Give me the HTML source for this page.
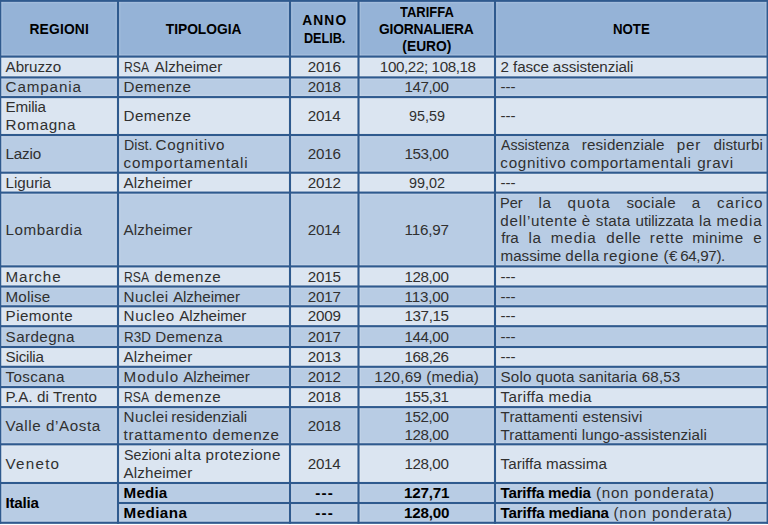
<!DOCTYPE html>
<html lang="it">
<head>
<meta charset="utf-8">
<title>Tariffe giornaliere</title>
<style>
html,body{margin:0;padding:0;background:#fff;}
body{width:768px;height:525px;position:relative;overflow:hidden;font-family:"Liberation Sans",sans-serif;color:#303030;}
svg{position:absolute;left:0;top:0;}
.t{position:absolute;white-space:pre;line-height:1;font-size:15.2px;transform-origin:0 0;}
.b{font-weight:bold;color:#000;}
.h{font-size:13.8px;font-weight:bold;color:#000;}
</style>
</head>
<body>
<svg width="768" height="525" viewBox="0 0 768 525">
<rect x="0" y="0.80" width="768" height="56.60" fill="#95b3d7"/>
<rect x="0" y="56.60" width="768" height="21.60" fill="#dbe5f1"/>
<rect x="0" y="77.40" width="768" height="20.50" fill="#b8cce4"/>
<rect x="0" y="97.10" width="768" height="38.70" fill="#dbe5f1"/>
<rect x="0" y="135.00" width="768" height="38.50" fill="#b8cce4"/>
<rect x="0" y="172.70" width="768" height="20.70" fill="#dbe5f1"/>
<rect x="0" y="192.60" width="768" height="74.60" fill="#b8cce4"/>
<rect x="0" y="266.40" width="768" height="20.90" fill="#dbe5f1"/>
<rect x="0" y="286.50" width="768" height="20.60" fill="#b8cce4"/>
<rect x="0" y="306.30" width="768" height="20.70" fill="#dbe5f1"/>
<rect x="0" y="326.20" width="768" height="21.60" fill="#b8cce4"/>
<rect x="0" y="347.00" width="768" height="20.60" fill="#dbe5f1"/>
<rect x="0" y="366.80" width="768" height="21.10" fill="#b8cce4"/>
<rect x="0" y="387.10" width="768" height="20.80" fill="#dbe5f1"/>
<rect x="0" y="407.10" width="768" height="38.00" fill="#b8cce4"/>
<rect x="0" y="444.30" width="768" height="39.50" fill="#dbe5f1"/>
<rect x="0" y="483.00" width="768" height="20.80" fill="#b8cce4"/>
<rect x="0" y="503.00" width="768" height="19.80" fill="#b8cce4"/>
<rect x="0.00" y="-1.65" width="768.00" height="4.90" fill="#fff" fill-opacity="0.13"/>
<rect x="0.00" y="54.15" width="768.00" height="4.90" fill="#fff" fill-opacity="0.13"/>
<rect x="0.00" y="74.95" width="768.00" height="4.90" fill="#fff" fill-opacity="0.13"/>
<rect x="0.00" y="94.65" width="768.00" height="4.90" fill="#fff" fill-opacity="0.13"/>
<rect x="0.00" y="132.55" width="768.00" height="4.90" fill="#fff" fill-opacity="0.13"/>
<rect x="0.00" y="170.25" width="768.00" height="4.90" fill="#fff" fill-opacity="0.13"/>
<rect x="0.00" y="190.15" width="768.00" height="4.90" fill="#fff" fill-opacity="0.13"/>
<rect x="0.00" y="263.95" width="768.00" height="4.90" fill="#fff" fill-opacity="0.13"/>
<rect x="0.00" y="284.05" width="768.00" height="4.90" fill="#fff" fill-opacity="0.13"/>
<rect x="0.00" y="303.85" width="768.00" height="4.90" fill="#fff" fill-opacity="0.13"/>
<rect x="0.00" y="323.75" width="768.00" height="4.90" fill="#fff" fill-opacity="0.13"/>
<rect x="0.00" y="344.55" width="768.00" height="4.90" fill="#fff" fill-opacity="0.13"/>
<rect x="0.00" y="364.35" width="768.00" height="4.90" fill="#fff" fill-opacity="0.13"/>
<rect x="0.00" y="384.65" width="768.00" height="4.90" fill="#fff" fill-opacity="0.13"/>
<rect x="0.00" y="404.65" width="768.00" height="4.90" fill="#fff" fill-opacity="0.13"/>
<rect x="0.00" y="441.85" width="768.00" height="4.90" fill="#fff" fill-opacity="0.13"/>
<rect x="0.00" y="480.55" width="768.00" height="4.90" fill="#fff" fill-opacity="0.13"/>
<rect x="118.00" y="500.55" width="650.00" height="4.90" fill="#fff" fill-opacity="0.13"/>
<rect x="0.00" y="520.35" width="768.00" height="4.90" fill="#fff" fill-opacity="0.13"/>
<rect x="-2.25" y="0" width="4.90" height="522.80" fill="#fff" fill-opacity="0.13"/>
<rect x="115.55" y="0" width="4.90" height="522.80" fill="#fff" fill-opacity="0.13"/>
<rect x="287.55" y="0" width="4.90" height="522.80" fill="#fff" fill-opacity="0.13"/>
<rect x="356.05" y="0" width="4.90" height="522.80" fill="#fff" fill-opacity="0.13"/>
<rect x="492.55" y="0" width="4.90" height="522.80" fill="#fff" fill-opacity="0.13"/>
<rect x="765.15" y="0" width="4.90" height="522.80" fill="#fff" fill-opacity="0.13"/>
<rect x="0.00" y="-0.25" width="768.00" height="2.10" fill="#2f5a8e"/>
<rect x="0.00" y="55.55" width="768.00" height="2.10" fill="#2f5a8e"/>
<rect x="0.00" y="76.35" width="768.00" height="2.10" fill="#2f5a8e"/>
<rect x="0.00" y="96.05" width="768.00" height="2.10" fill="#2f5a8e"/>
<rect x="0.00" y="133.95" width="768.00" height="2.10" fill="#2f5a8e"/>
<rect x="0.00" y="171.65" width="768.00" height="2.10" fill="#2f5a8e"/>
<rect x="0.00" y="191.55" width="768.00" height="2.10" fill="#2f5a8e"/>
<rect x="0.00" y="265.35" width="768.00" height="2.10" fill="#2f5a8e"/>
<rect x="0.00" y="285.45" width="768.00" height="2.10" fill="#2f5a8e"/>
<rect x="0.00" y="305.25" width="768.00" height="2.10" fill="#2f5a8e"/>
<rect x="0.00" y="325.15" width="768.00" height="2.10" fill="#2f5a8e"/>
<rect x="0.00" y="345.95" width="768.00" height="2.10" fill="#2f5a8e"/>
<rect x="0.00" y="365.75" width="768.00" height="2.10" fill="#2f5a8e"/>
<rect x="0.00" y="386.05" width="768.00" height="2.10" fill="#2f5a8e"/>
<rect x="0.00" y="406.05" width="768.00" height="2.10" fill="#2f5a8e"/>
<rect x="0.00" y="443.25" width="768.00" height="2.10" fill="#2f5a8e"/>
<rect x="0.00" y="481.95" width="768.00" height="2.10" fill="#2f5a8e"/>
<rect x="118.00" y="501.95" width="650.00" height="2.10" fill="#2f5a8e"/>
<rect x="0.00" y="521.75" width="768.00" height="2.10" fill="#2f5a8e"/>
<rect x="-0.85" y="0" width="2.10" height="523.85" fill="#2f5a8e"/>
<rect x="116.95" y="0" width="2.10" height="523.85" fill="#2f5a8e"/>
<rect x="288.95" y="0" width="2.10" height="523.85" fill="#2f5a8e"/>
<rect x="357.45" y="0" width="2.10" height="523.85" fill="#2f5a8e"/>
<rect x="493.95" y="0" width="2.10" height="523.85" fill="#2f5a8e"/>
<rect x="766.55" y="0" width="2.10" height="523.85" fill="#2f5a8e"/>
</svg>
<span class="t h" style="left:29.43px;top:22.90px;letter-spacing:0.198px;">REGIONI</span>
<span class="t h" style="left:165.78px;top:22.90px;letter-spacing:-0.029px;">TIPOLOGIA</span>
<span class="t h" style="left:302.29px;top:14.25px;letter-spacing:1.075px;">ANNO</span>
<span class="t h" style="left:303.90px;top:31.55px;transform:scaleX(0.9135);">DELIB.</span>
<span class="t h" style="left:399.58px;top:5.60px;transform:scaleX(0.9390);">TARIFFA</span>
<span class="t h" style="left:379.04px;top:22.90px;letter-spacing:-0.186px;">GIORNALIERA</span>
<span class="t h" style="left:402.31px;top:40.20px;letter-spacing:0.019px;">(EURO)</span>
<span class="t h" style="left:613.16px;top:22.90px;transform:scaleX(0.9603);">NOTE</span>
<span class="t" style="left:5.60px;top:59.15px;letter-spacing:-0.035px;">Abruzzo</span>
<span class="t" style="left:123.84px;top:59.15px;transform:scaleX(0.8014);">RSA </span>
<span class="t" style="left:154.60px;top:59.15px;letter-spacing:0.024px;">Alzheimer</span>
<span class="t" style="left:307.75px;top:59.15px;letter-spacing:-0.234px;">2016</span>
<span class="t" style="left:379.87px;top:59.15px;letter-spacing:-0.396px;">100,22; 108,18</span>
<span class="t" style="left:500.60px;top:59.15px;letter-spacing:-0.114px;">2 fasce assistenziali</span>
<span class="t" style="left:5.60px;top:79.40px;letter-spacing:0.870px;">Campania</span>
<span class="t" style="left:123.60px;top:79.40px;letter-spacing:0.412px;">Demenze</span>
<span class="t" style="left:307.75px;top:79.40px;letter-spacing:-0.234px;">2018</span>
<span class="t" style="left:404.57px;top:79.40px;letter-spacing:-0.437px;">147,00</span>
<span class="t" style="left:500.60px;top:79.40px;letter-spacing:-0.087px;">---</span>
<span class="t" style="left:5.60px;top:99.40px;letter-spacing:-0.202px;">Emilia</span>
<span class="t" style="left:5.60px;top:117.00px;letter-spacing:0.662px;">Romagna</span>
<span class="t" style="left:123.60px;top:108.20px;letter-spacing:0.412px;">Demenze</span>
<span class="t" style="left:307.75px;top:108.20px;letter-spacing:-0.317px;">2014</span>
<span class="t" style="left:409.15px;top:108.20px;transform:scaleX(0.9439);">95,59</span>
<span class="t" style="left:500.60px;top:108.20px;letter-spacing:-0.087px;">---</span>
<span class="t" style="left:5.60px;top:146.00px;letter-spacing:-0.204px;">Lazio</span>
<span class="t" style="left:123.68px;top:137.20px;transform:scaleX(0.9345);">Dist. </span>
<span class="t" style="left:155.45px;top:137.20px;letter-spacing:0.726px;">Cognitivo</span>
<span class="t" style="left:123.60px;top:154.80px;letter-spacing:0.847px;">comportamentali</span>
<span class="t" style="left:307.75px;top:146.00px;letter-spacing:-0.234px;">2016</span>
<span class="t" style="left:404.57px;top:146.00px;letter-spacing:-0.437px;">153,00</span>
<span class="t" style="left:501.00px;top:137.20px;transform:scaleX(0.9298);">Assistenza </span>
<span class="t" style="left:581.80px;top:137.20px;letter-spacing:0.154px;">residenziale </span>
<span class="t" style="left:676.76px;top:137.20px;letter-spacing:0.766px;">per </span>
<span class="t" style="left:713.57px;top:137.20px;letter-spacing:0.036px;">disturbi</span>
<span class="t" style="left:500.37px;top:154.80px;letter-spacing:0.683px;">cognitivo </span>
<span class="t" style="left:570.37px;top:154.80px;letter-spacing:0.585px;">comportamentali </span>
<span class="t" style="left:697.17px;top:154.80px;letter-spacing:0.740px;">gravi</span>
<span class="t" style="left:5.60px;top:174.80px;letter-spacing:-0.044px;">Liguria</span>
<span class="t" style="left:123.60px;top:174.80px;letter-spacing:0.137px;">Alzheimer</span>
<span class="t" style="left:307.75px;top:174.80px;letter-spacing:-0.192px;">2012</span>
<span class="t" style="left:409.15px;top:174.80px;transform:scaleX(0.9455);">99,02</span>
<span class="t" style="left:500.60px;top:174.80px;letter-spacing:-0.087px;">---</span>
<span class="t" style="left:5.60px;top:221.65px;letter-spacing:0.566px;">Lombardia</span>
<span class="t" style="left:123.60px;top:221.65px;letter-spacing:0.137px;">Alzheimer</span>
<span class="t" style="left:307.75px;top:221.65px;letter-spacing:-0.317px;">2014</span>
<span class="t" style="left:404.57px;top:221.65px;letter-spacing:-0.175px;">116,97</span>
<span class="t" style="left:500.36px;top:195.25px;transform:scaleX(0.9592);">Per </span>
<span class="t" style="left:538.60px;top:195.25px;letter-spacing:0.516px;">la </span>
<span class="t" style="left:567.57px;top:195.25px;letter-spacing:1.058px;">quota </span>
<span class="t" style="left:626.42px;top:195.25px;letter-spacing:0.319px;">sociale </span>
<span class="t" style="left:691.87px;top:195.25px;letter-spacing:0.619px;">a </span>
<span class="t" style="left:716.97px;top:195.25px;letter-spacing:0.984px;">carico</span>
<span class="t" style="left:500.37px;top:212.85px;letter-spacing:0.734px;">dell’utente </span>
<span class="t" style="left:581.67px;top:212.85px;letter-spacing:0.307px;">è </span>
<span class="t" style="left:595.82px;top:212.85px;letter-spacing:0.337px;">stata </span>
<span class="t" style="left:635.56px;top:212.85px;letter-spacing:-0.104px;">utilizzata </span>
<span class="t" style="left:699.10px;top:212.85px;letter-spacing:0.316px;">la </span>
<span class="t" style="left:716.40px;top:212.85px;letter-spacing:0.982px;">media</span>
<span class="t" style="left:501.31px;top:230.45px;letter-spacing:-0.138px;">fra </span>
<span class="t" style="left:528.50px;top:230.45px;letter-spacing:0.516px;">la </span>
<span class="t" style="left:550.80px;top:230.45px;letter-spacing:0.882px;">media </span>
<span class="t" style="left:606.37px;top:230.45px;letter-spacing:0.591px;">delle </span>
<span class="t" style="left:649.80px;top:230.45px;letter-spacing:0.807px;">rette </span>
<span class="t" style="left:692.30px;top:230.45px;letter-spacing:0.370px;">minime </span>
<span class="t" style="left:753.27px;top:230.45px;letter-spacing:0.707px;">e</span>
<span class="t" style="left:500.50px;top:248.05px;letter-spacing:0.004px;">massime </span>
<span class="t" style="left:565.37px;top:248.05px;letter-spacing:0.419px;">della </span>
<span class="t" style="left:603.20px;top:248.05px;letter-spacing:0.760px;">regione </span>
<span class="t" style="left:663.56px;top:248.05px;letter-spacing:0.515px;">(€ </span>
<span class="t" style="left:680.15px;top:248.05px;letter-spacing:-0.354px;">64,97).</span>
<span class="t" style="left:5.60px;top:268.60px;letter-spacing:0.872px;">Marche</span>
<span class="t" style="left:123.84px;top:268.60px;transform:scaleX(0.8014);">RSA </span>
<span class="t" style="left:154.47px;top:268.60px;letter-spacing:0.644px;">demenze</span>
<span class="t" style="left:307.75px;top:268.60px;letter-spacing:-0.234px;">2015</span>
<span class="t" style="left:404.57px;top:268.60px;letter-spacing:-0.437px;">128,00</span>
<span class="t" style="left:500.60px;top:268.60px;letter-spacing:-0.087px;">---</span>
<span class="t" style="left:5.60px;top:288.55px;letter-spacing:0.123px;">Molise</span>
<span class="t" style="left:123.60px;top:288.55px;letter-spacing:0.476px;">Nuclei </span>
<span class="t" style="left:172.90px;top:288.55px;letter-spacing:-0.051px;">Alzheimer</span>
<span class="t" style="left:307.75px;top:288.55px;letter-spacing:-0.192px;">2017</span>
<span class="t" style="left:404.57px;top:288.55px;letter-spacing:-0.212px;">113,00</span>
<span class="t" style="left:500.60px;top:288.55px;letter-spacing:-0.087px;">---</span>
<span class="t" style="left:5.60px;top:308.40px;letter-spacing:0.407px;">Piemonte</span>
<span class="t" style="left:123.60px;top:308.40px;letter-spacing:0.667px;">Nucleo </span>
<span class="t" style="left:179.30px;top:308.40px;letter-spacing:-0.063px;">Alzheimer</span>
<span class="t" style="left:307.75px;top:308.40px;letter-spacing:-0.213px;">2009</span>
<span class="t" style="left:404.57px;top:308.40px;letter-spacing:-0.425px;">137,15</span>
<span class="t" style="left:500.60px;top:308.40px;letter-spacing:-0.087px;">---</span>
<span class="t" style="left:5.60px;top:328.75px;letter-spacing:0.415px;">Sardegna</span>
<span class="t" style="left:123.74px;top:328.75px;transform:scaleX(0.8839);">R3D </span>
<span class="t" style="left:155.21px;top:328.75px;letter-spacing:0.362px;">Demenza</span>
<span class="t" style="left:307.75px;top:328.75px;letter-spacing:-0.192px;">2017</span>
<span class="t" style="left:404.57px;top:328.75px;letter-spacing:-0.437px;">144,00</span>
<span class="t" style="left:500.60px;top:328.75px;letter-spacing:-0.087px;">---</span>
<span class="t" style="left:5.60px;top:349.05px;letter-spacing:-0.230px;">Sicilia</span>
<span class="t" style="left:123.60px;top:349.05px;letter-spacing:0.137px;">Alzheimer</span>
<span class="t" style="left:307.75px;top:349.05px;letter-spacing:-0.234px;">2013</span>
<span class="t" style="left:404.57px;top:349.05px;letter-spacing:-0.425px;">168,26</span>
<span class="t" style="left:500.60px;top:349.05px;letter-spacing:-0.087px;">---</span>
<span class="t" style="left:5.60px;top:369.10px;letter-spacing:0.371px;">Toscana</span>
<span class="t" style="left:123.60px;top:369.10px;letter-spacing:0.934px;">Modulo </span>
<span class="t" style="left:183.20px;top:369.10px;letter-spacing:-0.126px;">Alzheimer</span>
<span class="t" style="left:307.75px;top:369.10px;letter-spacing:-0.192px;">2012</span>
<span class="t" style="left:374.37px;top:369.10px;letter-spacing:0.181px;">120,69 (media)</span>
<span class="t" style="left:500.60px;top:369.10px;letter-spacing:0.130px;">Solo quota sanitaria 68,53</span>
<span class="t" style="left:5.60px;top:389.25px;letter-spacing:0.099px;">P.A. di Trento</span>
<span class="t" style="left:123.84px;top:389.25px;transform:scaleX(0.8014);">RSA </span>
<span class="t" style="left:154.47px;top:389.25px;letter-spacing:0.644px;">demenze</span>
<span class="t" style="left:307.75px;top:389.25px;letter-spacing:-0.234px;">2018</span>
<span class="t" style="left:404.57px;top:389.25px;letter-spacing:-0.412px;">155,31</span>
<span class="t" style="left:500.60px;top:389.25px;letter-spacing:0.340px;">Tariffa media</span>
<span class="t" style="left:5.60px;top:417.85px;letter-spacing:0.589px;">Valle d’Aosta</span>
<span class="t" style="left:123.60px;top:409.05px;letter-spacing:0.436px;">Nuclei </span>
<span class="t" style="left:171.20px;top:409.05px;letter-spacing:0.004px;">residenziali</span>
<span class="t" style="left:123.60px;top:426.65px;letter-spacing:0.715px;">trattamento </span>
<span class="t" style="left:212.57px;top:426.65px;letter-spacing:0.644px;">demenze</span>
<span class="t" style="left:307.75px;top:417.85px;letter-spacing:-0.234px;">2018</span>
<span class="t" style="left:404.57px;top:409.05px;letter-spacing:-0.437px;">152,00</span>
<span class="t" style="left:404.57px;top:426.65px;letter-spacing:-0.437px;">128,00</span>
<span class="t" style="left:500.60px;top:409.05px;letter-spacing:0.111px;">Trattamenti estensivi</span>
<span class="t" style="left:500.60px;top:426.65px;letter-spacing:0.056px;">Trattamenti lungo-assistenziali</span>
<span class="t" style="left:5.60px;top:455.80px;letter-spacing:1.235px;">Veneto</span>
<span class="t" style="left:123.64px;top:447.00px;transform:scaleX(0.9408);">Sezioni </span>
<span class="t" style="left:174.37px;top:447.00px;letter-spacing:0.681px;">alta </span>
<span class="t" style="left:205.56px;top:447.00px;letter-spacing:0.441px;">protezione</span>
<span class="t" style="left:123.60px;top:464.60px;letter-spacing:0.137px;">Alzheimer</span>
<span class="t" style="left:307.75px;top:455.80px;letter-spacing:-0.317px;">2014</span>
<span class="t" style="left:404.57px;top:455.80px;letter-spacing:-0.437px;">128,00</span>
<span class="t" style="left:500.60px;top:455.80px;letter-spacing:0.013px;">Tariffa massima</span>
<span class="t b" style="left:5.60px;top:495.05px;letter-spacing:-0.276px;">Italia</span>
<span class="t b" style="left:123.60px;top:485.15px;letter-spacing:0.169px;">Media</span>
<span class="t b" style="left:123.60px;top:505.05px;letter-spacing:0.412px;">Mediana</span>
<span class="t b" style="left:315.34px;top:485.15px;letter-spacing:1.113px;">---</span>
<span class="t b" style="left:315.34px;top:505.05px;letter-spacing:1.113px;">---</span>
<span class="t b" style="left:404.06px;top:485.15px;letter-spacing:-0.232px;">127,71</span>
<span class="t b" style="left:404.06px;top:505.05px;letter-spacing:-0.195px;">128,00</span>
<span class="t b" style="left:500.60px;top:485.15px;letter-spacing:-0.248px;">Tariffa media</span>
<span class="t" style="left:596.06px;top:485.15px;letter-spacing:0.709px;">(non ponderata)</span>
<span class="t b" style="left:500.60px;top:505.05px;letter-spacing:-0.196px;">Tariffa mediana</span>
<span class="t" style="left:613.56px;top:505.05px;letter-spacing:0.745px;">(non ponderata)</span>
</body>
</html>
